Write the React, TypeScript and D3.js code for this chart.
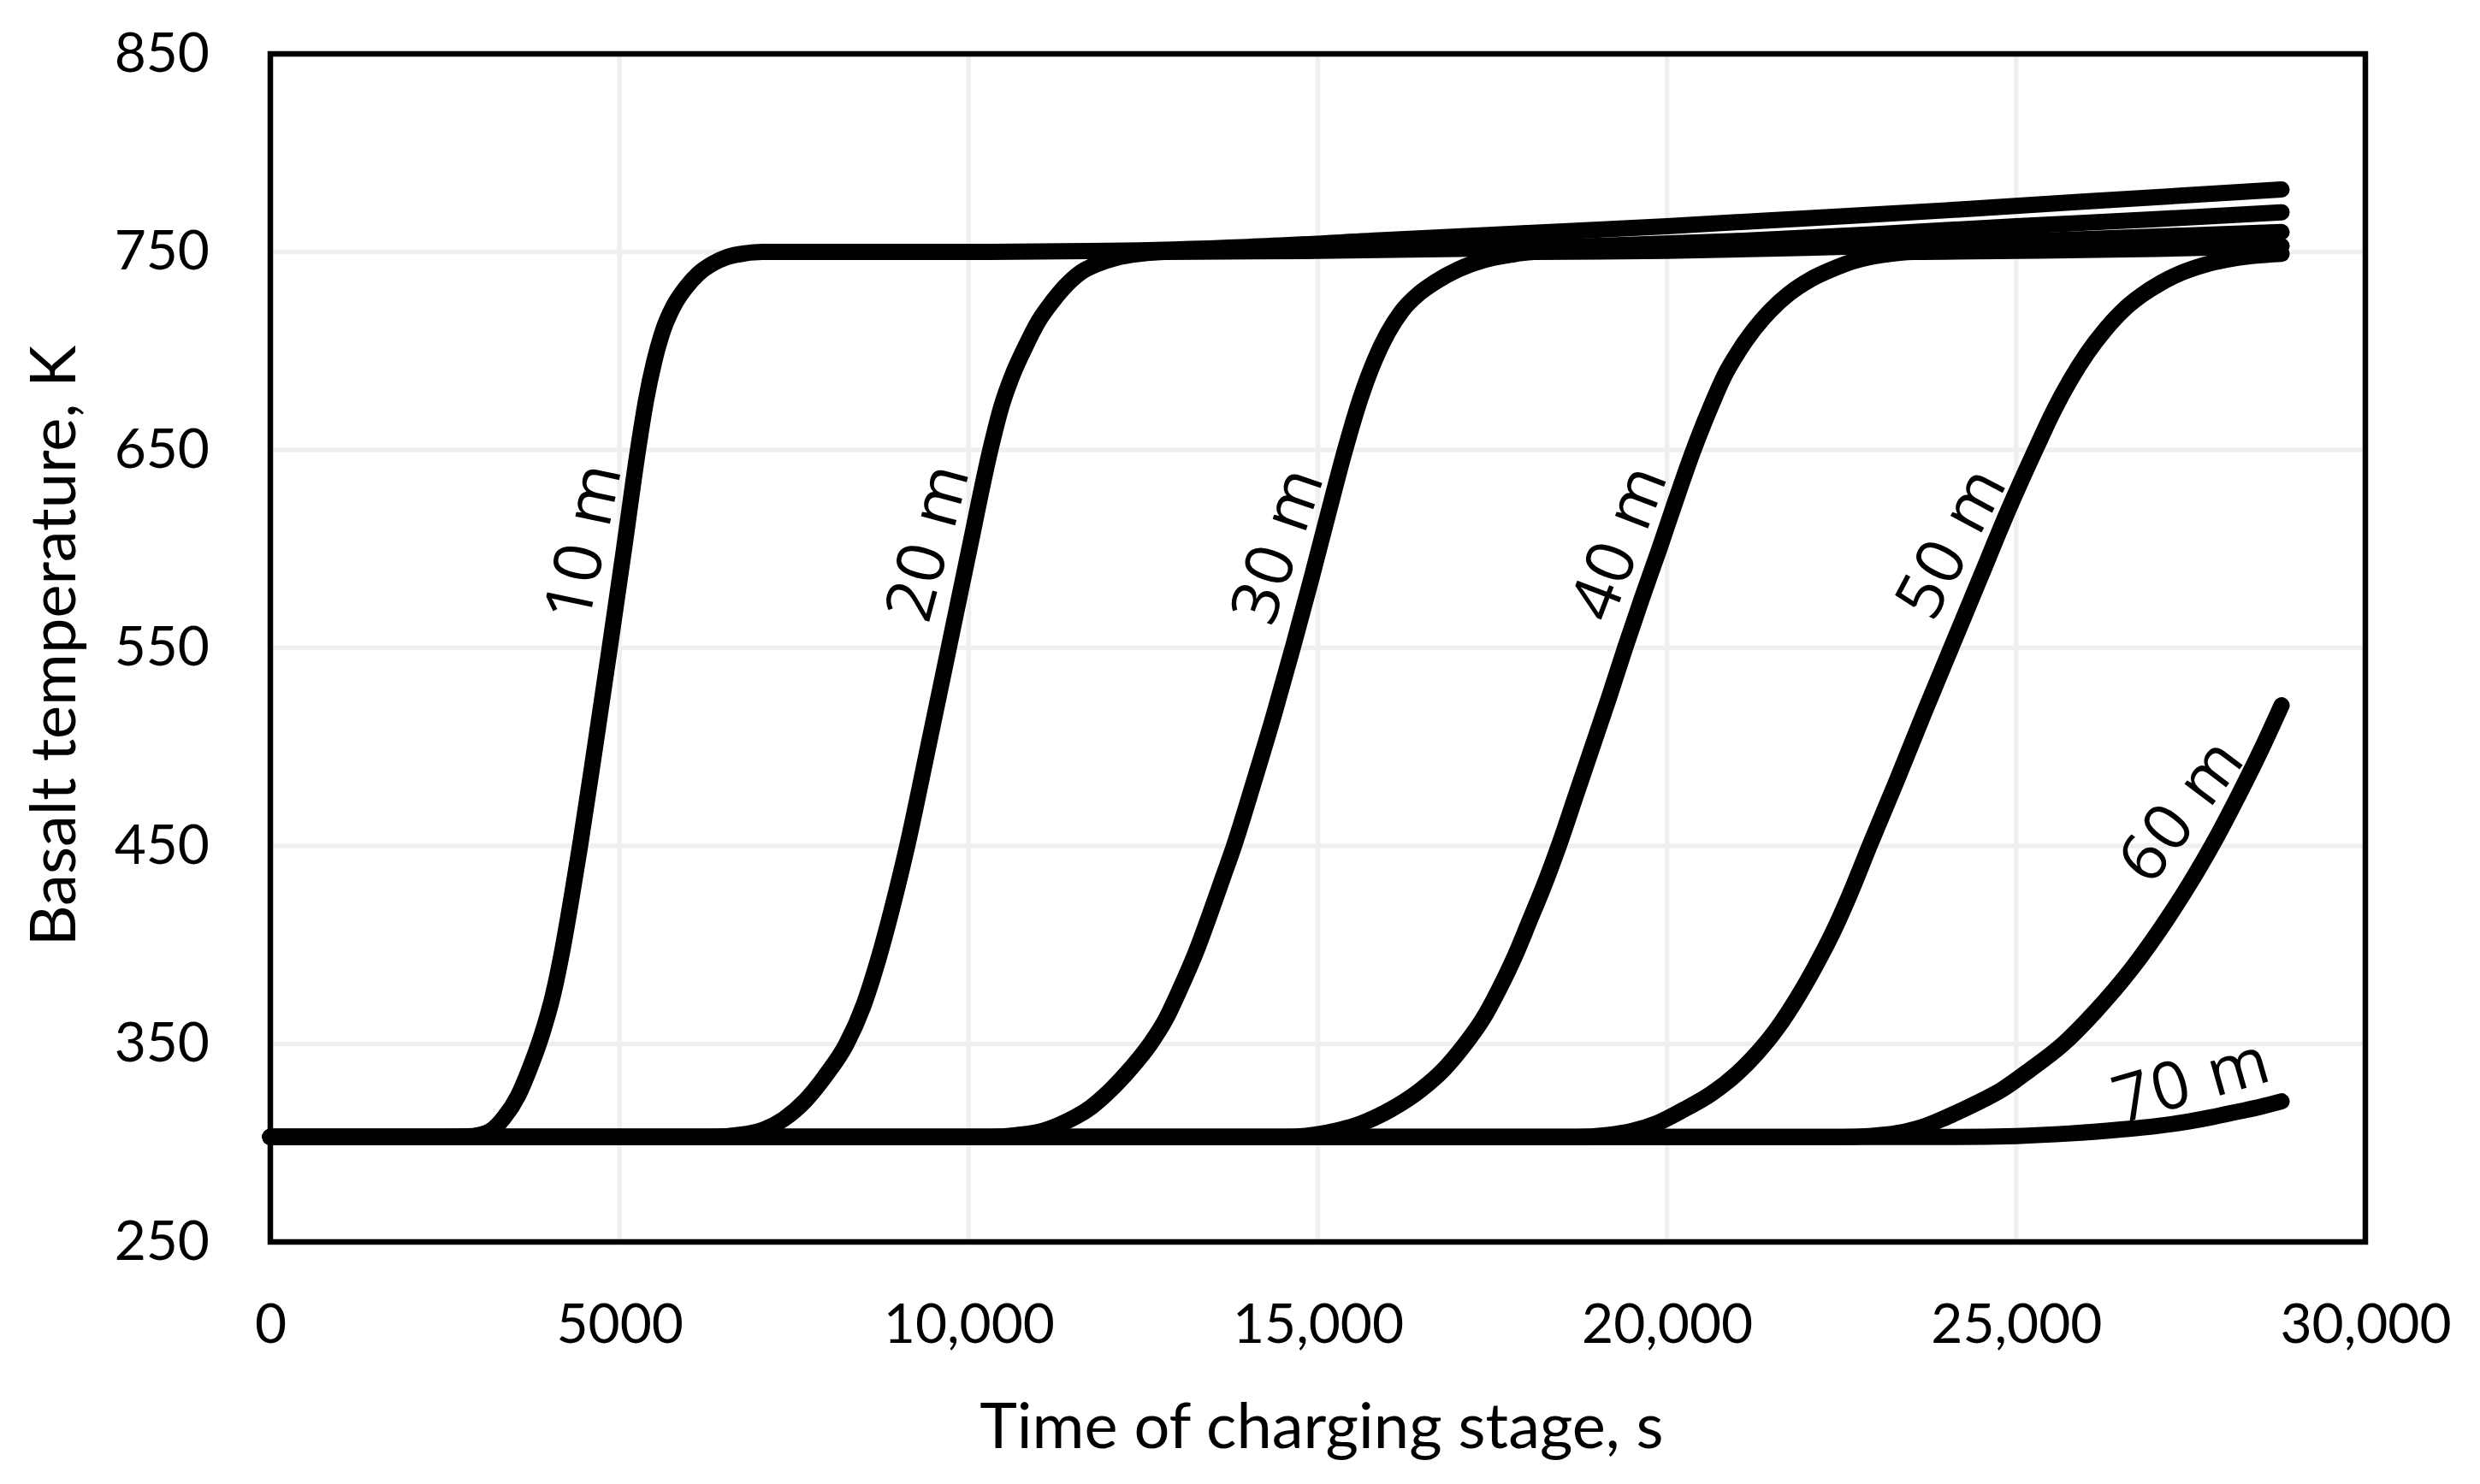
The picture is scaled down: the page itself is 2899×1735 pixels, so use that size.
import { useRef, useEffect } from 'react';
import * as d3 from 'd3';

// Axis values
const xTicks = [0, 5000, 10000, 15000, 20000, 25000, 30000];
const xTickLabels = ['0', '5000', '10,000', '15,000', '20,000', '25,000', '30,000'];
const yTicks = [250, 350, 450, 550, 650, 750, 850];

// Basalt temperature [time s, temperature K] at each depth
const depth10: [number, number][] = [
  [0, 303], [2500, 303], [2900, 303.5], [3150, 306], [3350, 313], [3550, 324], [3730, 339],
  [3900, 356], [4050, 375], [4180, 397], [4300, 421], [4435, 450], [4650, 500], [4860, 550],
  [5065, 600], [5265, 650], [5380, 675], [5500, 695], [5630, 711], [5780, 723], [5950, 732],
  [6130, 739], [6330, 744], [6550, 747.5], [6800, 749.3], [7040, 750], [8000, 750], [10000, 750],
  [12000, 750.5], [14000, 752.5], [16000, 756], [18000, 759.5], [20000, 763], [22000, 767],
  [24000, 771], [26000, 775.5], [28800, 781.5],
];
const depth20: [number, number][] = [
  [0, 303], [6300, 303], [6700, 304], [7050, 306.5], [7350, 312], [7650, 321], [7950, 334],
  [8250, 350], [8500, 370], [8700, 392], [8900, 418], [9120, 450], [9420, 500], [9715, 550],
  [10010, 600], [10310, 650], [10470, 672], [10630, 688], [10810, 702], [11000, 715],
  [11200, 725], [11420, 734], [11620, 740], [11850, 744], [12110, 747], [12450, 749],
  [12820, 750], [15000, 750.5], [17000, 751.5], [19000, 753], [21000, 755.5], [23000, 759],
  [25000, 763], [27000, 766.5], [28800, 770],
];
const depth30: [number, number][] = [
  [0, 303], [10300, 303], [10700, 304], [11050, 306], [11410, 311], [11750, 318], [12040, 327],
  [12330, 338], [12600, 350], [12830, 363], [13030, 378], [13250, 396], [13450, 415],
  [13630, 433], [13800, 450], [14090, 483], [14370, 516], [14640, 550], [14900, 584],
  [15150, 618], [15390, 650], [15610, 676], [15810, 695], [16000, 709], [16200, 720],
  [16450, 729], [16690, 735], [17000, 741], [17390, 746], [17750, 748.5], [18100, 750],
  [20000, 750.5], [22000, 752], [24000, 754], [26000, 756.5], [28800, 760],
];
const depth40: [number, number][] = [
  [0, 303], [14500, 303], [14930, 304], [15300, 306.5], [15630, 310], [16050, 317],
  [16480, 327], [16800, 337], [17110, 350], [17370, 363], [17600, 378], [17830, 395],
  [18030, 412], [18250, 431], [18450, 450], [18700, 476], [18940, 501], [19170, 525],
  [19400, 550], [19640, 575], [19890, 600], [20130, 625], [20380, 650], [20640, 673],
  [20830, 688], [21030, 700], [21250, 711], [21470, 720], [21750, 729], [22050, 736],
  [22350, 741], [22690, 745.5], [23100, 748.5], [23530, 750], [25000, 750.5], [27000, 751.5],
  [28800, 753],
];
const depth50: [number, number][] = [
  [0, 303], [18700, 303], [19150, 304], [19500, 306], [19860, 310], [20250, 317], [20640, 325],
  [21000, 335], [21280, 345], [21580, 358], [21860, 373], [22120, 389], [22370, 406],
  [22600, 424], [22900, 450], [23290, 483], [23680, 517], [24080, 551], [24480, 585],
  [24880, 619], [25300, 652], [25540, 670], [25770, 685], [26020, 699], [26280, 711],
  [26530, 720.5], [26790, 728], [27080, 734.5], [27370, 739.5], [27700, 743.5], [28010, 746],
  [28400, 748], [28800, 749],
];
const depth60: [number, number][] = [
  [0, 303], [22500, 303], [22900, 303.5], [23300, 305], [23650, 308], [24000, 313],
  [24400, 319.5], [24800, 327], [25200, 337], [25674, 350], [26123, 366], [26654, 388],
  [27225, 416.5], [27520, 433], [27817, 451], [28205, 477], [28500, 498], [28800, 521],
];
const depth70: [number, number][] = [
  [0, 303], [24000, 303], [25000, 303.5], [25770, 304.8], [26500, 306.8], [27000, 308.5],
  [27360, 310.2], [27800, 313], [28200, 316], [28500, 318.3], [28800, 321],
];

const seriesNames = ['10 m', '20 m', '30 m', '40 m', '50 m', '60 m', '70 m'];
const seriesData = [depth10, depth20, depth30, depth40, depth50, depth60, depth70];

// where each depth label sits, in data units, and how far it is turned
const labelTimes = [4440, 9370, 14380, 19270, 24030, 27327, 27500];
const labelTemps = [604, 604, 602.5, 604, 604, 469, 333];
const labelAngles = [-78, -75, -71, -69, -62, -53, -16];

export default function App() {
  const svgRef = useRef<SVGSVGElement>(null);

  useEffect(() => {
    if (!svgRef.current) return;
    const width = 2899;
    const height = 1735;
    const svg = d3.select(svgRef.current);
    svg.selectAll('*').remove();
    svg.attr('width', width).attr('height', height);

    const margin = { top: 63, right: 134, bottom: 283, left: 316 };
    const x = d3.scaleLinear().domain([0, 30000]).range([margin.left, width - margin.right]);
    const y = d3.scaleLinear().domain([250, 850]).range([height - margin.bottom, margin.top]);
    const axisFont = 'Lato, Calibri, "Liberation Sans", sans-serif';

    svg.append('rect').attr('width', width).attr('height', height).attr('fill', '#fff');

    // gridlines
    const grid = svg.append('g').attr('stroke', '#efefef').attr('stroke-width', 5.5);
    grid
      .selectAll('line.v')
      .data(xTicks.slice(1, -1))
      .join('line')
      .attr('x1', (d) => x(d))
      .attr('x2', (d) => x(d))
      .attr('y1', y(250))
      .attr('y2', y(850));
    grid
      .selectAll('line.h')
      .data(yTicks.slice(1, -1))
      .join('line')
      .attr('x1', x(0))
      .attr('x2', x(30000))
      .attr('y1', (d) => y(d))
      .attr('y2', (d) => y(d));

    // curves
    const line = d3
      .line<[number, number]>()
      .x((d) => x(d[0]))
      .y((d) => y(d[1]))
      .curve(d3.curveMonotoneX);

    svg
      .append('g')
      .selectAll('path')
      .data(seriesData)
      .join('path')
      .attr('d', (d) => line(d))
      .attr('fill', 'none')
      .attr('stroke', '#000')
      .attr('stroke-width', 19)
      .attr('stroke-linecap', 'round')
      .attr('stroke-linejoin', 'round');

    // depth labels
    svg
      .append('g')
      .selectAll('text')
      .data(seriesNames)
      .join('text')
      .attr('transform', (_, i) => `translate(${x(labelTimes[i])},${y(labelTemps[i])}) rotate(${labelAngles[i]})`)
      .attr('text-anchor', 'middle')
      .attr('dominant-baseline', 'central')
      .attr('font-family', '"Open Sans", sans-serif')
      .attr('font-size', 77)
      .attr('letter-spacing', 2)
      .attr('fill', '#000')
      .text((d) => d);

    // plot frame
    svg
      .append('rect')
      .attr('x', x(0))
      .attr('y', y(850))
      .attr('width', x(30000) - x(0))
      .attr('height', y(250) - y(850))
      .attr('fill', 'none')
      .attr('stroke', '#000')
      .attr('stroke-width', 6.5);

    // axes (labels only)
    const xAxis = d3
      .axisBottom(x)
      .tickValues(xTicks)
      .tickSize(0)
      .tickPadding(73)
      .tickFormat((_, i) => xTickLabels[i]);
    const gx = svg.append('g').attr('transform', `translate(0,${y(250)})`).call(xAxis);
    gx.select('.domain').remove();
    gx.selectAll('text').attr('font-family', axisFont).attr('font-size', 64).attr('fill', '#000');

    const yAxis = d3.axisLeft(y).tickValues(yTicks).tickSize(0).tickPadding(71).tickFormat(d3.format('d'));
    const gy = svg.append('g').attr('transform', `translate(${x(0)},0)`).call(yAxis);
    gy.select('.domain').remove();
    gy.selectAll('text').attr('font-family', axisFont).attr('font-size', 64).attr('fill', '#000');

    // axis titles
    svg
      .append('text')
      .attr('x', 1545)
      .attr('y', 1693)
      .attr('text-anchor', 'middle')
      .attr('font-family', axisFont)
      .attr('font-size', 74)
      .attr('fill', '#000')
      .text('Time of charging stage, s');

    svg
      .append('text')
      .attr('transform', 'translate(88,755) rotate(-90)')
      .attr('text-anchor', 'middle')
      .attr('font-family', axisFont)
      .attr('font-size', 74)
      .attr('fill', '#000')
      .text('Basalt temperature, K');
  }, []);

  return (
    <div style={{ position: 'absolute', left: 0, top: 0 }}>
      <svg ref={svgRef} style={{ display: 'block' }} />
    </div>
  );
}
